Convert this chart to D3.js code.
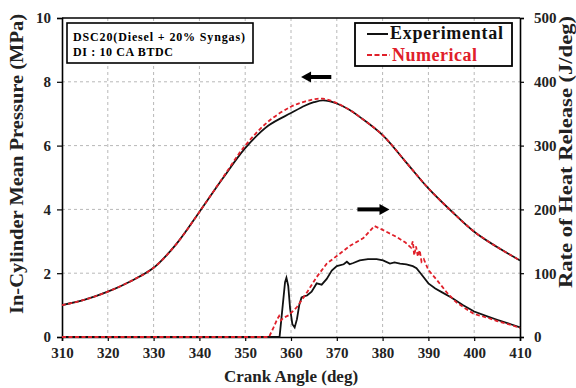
<!DOCTYPE html>
<html lang="en">
<head>
<meta charset="UTF-8">
<title>DSC20 pressure and heat release</title>
<script src="https://d3js.org/d3.v7.min.js"></script>
<style>
    body { margin: 0; background: #fff; }
    text { font-family: "Liberation Serif", "Times New Roman", serif; font-weight: bold; }
    .grid line { stroke: #b8b8b8; stroke-dasharray: 3,3; }
</style>
</head>
<body>
<script>

// crank angle ticks and axis ticks
var angleTicks = [310, 320, 330, 340, 350, 360, 370, 380, 390, 400, 410];
var pressureTicks = [0, 2, 4, 6, 8, 10];
var heatTicks = [0, 100, 200, 300, 400, 500];

// in-cylinder pressure (MPa)
var pressureAngle = [310, 315, 320, 325, 330, 335, 340, 345, 350, 355, 360, 363, 365, 367, 370, 373, 375, 380, 385, 390, 395, 400, 405, 410];
var pressureExp   = [1.0, 1.17, 1.42, 1.75, 2.17, 2.92, 3.92, 4.95, 5.92, 6.62, 7.02, 7.25, 7.36, 7.42, 7.32, 7.10, 6.90, 6.33, 5.50, 4.66, 3.95, 3.30, 2.82, 2.40];
var pressureNum   = [1.0, 1.17, 1.42, 1.75, 2.17, 2.92, 3.92, 4.97, 6.0, 6.75, 7.22, 7.38, 7.45, 7.47, 7.33, 7.10, 6.90, 6.33, 5.50, 4.66, 3.95, 3.30, 2.82, 2.40];

// rate of heat release (J/deg), experimental
var heatExpAngle = [310, 357.5, 358.2, 358.7, 359.0, 359.4, 359.8, 360.3, 360.8, 361.3, 361.8, 362.3, 363.0, 363.5, 364.5, 365.6, 366.7, 367.8, 368.9, 370.0, 371.5, 372.2, 372.8, 373.6, 375.0, 376.8, 378.7, 380.1, 381.6, 382.6, 383.8, 385.2, 386.6, 387.4, 388.5, 390.0, 391.5, 393.0, 395.0, 397.5, 400.0, 403.0, 405.0, 408.0, 410.0];
var heatExp      = [0, 0, 50, 86, 93, 80, 45, 20, 15, 28, 50, 62, 64, 65, 71, 84, 82, 91, 104, 111, 114, 118, 114, 116, 120, 122, 122, 120, 115, 117, 115, 114, 111, 108, 98, 84, 76, 70, 62, 50, 40, 32, 27, 20, 15];

// rate of heat release (J/deg), numerical
var heatNumAngle = [310, 355.2, 356.2, 357.0, 357.4, 357.8, 358.3, 359.5, 361.3, 363.5, 365.6, 367.8, 370.0, 372.9, 375.8, 378.2, 380.0, 383.0, 385.0, 386.2, 386.6, 386.9, 387.3, 387.7, 388.1, 388.5, 389.0, 390.0, 392.0, 394.0, 396.0, 398.0, 400.0, 403.0, 405.0, 408.0, 410.0];
var heatNum      = [0, 0, 15, 28, 33, 26, 30, 34, 47, 70, 94, 115, 127, 143, 155, 174, 168, 157, 148, 140, 150, 128, 142, 126, 136, 118, 122, 105, 88, 70, 55, 45, 36, 30, 25, 19, 14];

var width = 576, height = 388;
var margin = {top: 18, right: 56, bottom: 51, left: 62};
var plotW = width - margin.left - margin.right;
var plotH = height - margin.top - margin.bottom;

var svg = d3.select('body').append('svg')
    .attr('width', width)
    .attr('height', height);

var g = svg.append('g')
    .attr('transform', 'translate(' + margin.left + ',' + margin.top + ')');

var x = d3.scaleLinear().domain([310, 410]).range([0, plotW]);
var yP = d3.scaleLinear().domain([0, 10]).range([plotH, 0]);
var yH = d3.scaleLinear().domain([0, 500]).range([plotH, 0]);

// grid
var grid = g.append('g').attr('class', 'grid');
grid.selectAll('.vg')
    .data(angleTicks.slice(1, -1))
    .enter().append('line')
    .attr('x1', function(d) { return x(d); })
    .attr('x2', function(d) { return x(d); })
    .attr('y1', 0)
    .attr('y2', plotH);
grid.selectAll('.hg')
    .data(pressureTicks.slice(1, -1))
    .enter().append('line')
    .attr('x1', 0)
    .attr('x2', plotW)
    .attr('y1', function(d) { return yP(d); })
    .attr('y2', function(d) { return yP(d); });

// axes
var xAxis = g.append('g')
    .attr('transform', 'translate(0,' + plotH + ')')
    .call(d3.axisBottom(x).tickValues(angleTicks).tickSize(4).tickPadding(6));
var leftAxis = g.append('g')
    .call(d3.axisLeft(yP).tickValues(pressureTicks).tickSize(5).tickPadding(6));
var rightAxis = g.append('g')
    .attr('transform', 'translate(' + plotW + ',0)')
    .call(d3.axisRight(yH).tickValues(heatTicks).tickSize(4).tickPadding(10));

[xAxis, leftAxis, rightAxis].forEach(function(a) {
    a.select('.domain').attr('stroke', '#000').attr('stroke-width', 1.6);
    a.selectAll('.tick line').attr('stroke', '#000').attr('stroke-width', 1.2);
    a.selectAll('.tick text')
        .attr('fill', '#222')
        .style('font-family', '"Liberation Serif", serif')
        .style('font-weight', 'bold')
        .style('font-size', '15px');
});
g.append('line')
    .attr('x1', 0).attr('x2', plotW).attr('y1', 0).attr('y2', 0)
    .attr('stroke', '#000').attr('stroke-width', 1.6);

// lines
var lineP = d3.line().curve(d3.curveCatmullRom)
    .x(function(d) { return x(d[0]); })
    .y(function(d) { return yP(d[1]); });
var lineH = d3.line()
    .x(function(d) { return x(d[0]); })
    .y(function(d) { return yH(d[1]); });

function zip(a, b) { return a.map(function(v, i) { return [v, b[i]]; }); }

g.append('path')
    .datum(zip(pressureAngle, pressureExp))
    .attr('d', lineP)
    .attr('fill', 'none').attr('stroke', '#111').attr('stroke-width', 1.8);
g.append('path')
    .datum(zip(heatExpAngle, heatExp))
    .attr('d', lineH)
    .attr('fill', 'none').attr('stroke', '#111').attr('stroke-width', 1.8);
g.append('path')
    .datum(zip(pressureAngle, pressureNum))
    .attr('d', lineP)
    .attr('fill', 'none').attr('stroke', '#e0202a').attr('stroke-width', 1.8)
    .attr('stroke-dasharray', '4,2.5');
g.append('path')
    .datum(zip(heatNumAngle, heatNum))
    .attr('d', lineH)
    .attr('fill', 'none').attr('stroke', '#e0202a').attr('stroke-width', 1.8)
    .attr('stroke-dasharray', '4,2.5');

// arrows
function arrow(x1, x2, yy, dir) {
    var head = 10;
    var tipX = dir < 0 ? x1 : x2;
    var tailX = dir < 0 ? x2 : x1;
    g.append('line')
        .attr('x1', tailX).attr('x2', tipX - dir * head + dir * 1)
        .attr('y1', yy).attr('y2', yy)
        .attr('stroke', '#000').attr('stroke-width', 4);
    g.append('path')
        .attr('d', 'M' + tipX + ',' + yy + 'L' + (tipX - dir * head) + ',' + (yy - 5.5) +
              'L' + (tipX - dir * head) + ',' + (yy + 5.5) + 'Z')
        .attr('fill', '#000');
}
arrow(x(362.2), x(368.8), yP(8.15), -1);
arrow(x(374.5), x(381.5), yH(200), 1);

// annotation box
g.append('rect')
    .attr('x', 5).attr('y', 5).attr('width', 186).attr('height', 40)
    .attr('fill', '#fff').attr('stroke', '#000').attr('stroke-width', 1.6);
g.append('text')
    .attr('x', 11).attr('y', 23)
    .attr('textLength', 172)
    .style('font-size', '12px')
    .text('DSC20(Diesel + 20%  Syngas)');
g.append('text')
    .attr('x', 11).attr('y', 38)
    .attr('textLength', 100)
    .style('font-size', '12px')
    .text('DI : 10 CA BTDC');

// legend
var leg = g.append('g').attr('transform', 'translate(' + (355 - margin.left) + ',' + (23 - margin.top) + ')');
leg.append('rect')
    .attr('width', 157).attr('height', 43)
    .attr('fill', '#fff').attr('stroke', '#000').attr('stroke-width', 1.8);
leg.append('line')
    .attr('x1', 12).attr('x2', 33).attr('y1', 11).attr('y2', 11)
    .attr('stroke', '#111').attr('stroke-width', 2);
leg.append('text')
    .attr('x', 35).attr('y', 16)
    .attr('textLength', 113)
    .style('font-size', '18px')
    .attr('fill', '#111')
    .text('Experimental');
leg.append('line')
    .attr('x1', 12).attr('x2', 35).attr('y1', 32).attr('y2', 32)
    .attr('stroke', '#e0202a').attr('stroke-width', 2)
    .attr('stroke-dasharray', '5,2.5');
leg.append('text')
    .attr('x', 37).attr('y', 38)
    .attr('textLength', 85)
    .style('font-size', '18px')
    .attr('fill', '#e0202a')
    .text('Numerical');

// axis titles
svg.append('text')
    .attr('x', margin.left + plotW / 2).attr('y', 382)
    .attr('text-anchor', 'middle')
    .style('font-size', '17px')
    .attr('fill', '#222')
    .text('Crank Angle (deg)');
svg.append('text')
    .attr('transform', 'translate(23,164) rotate(-90)')
    .attr('text-anchor', 'middle')
    .attr('textLength', 300)
    .attr('lengthAdjust', 'spacingAndGlyphs')
    .style('font-size', '19px')
    .attr('fill', '#222')
    .text('In-Cylinder Mean Pressure (MPa)');
svg.append('text')
    .attr('transform', 'translate(572,152) rotate(-90)')
    .attr('text-anchor', 'middle')
    .attr('textLength', 272)
    .attr('lengthAdjust', 'spacingAndGlyphs')
    .style('font-size', '19px')
    .attr('fill', '#222')
    .text('Rate of Heat Release (J/deg)');

</script>
</body>
</html>
